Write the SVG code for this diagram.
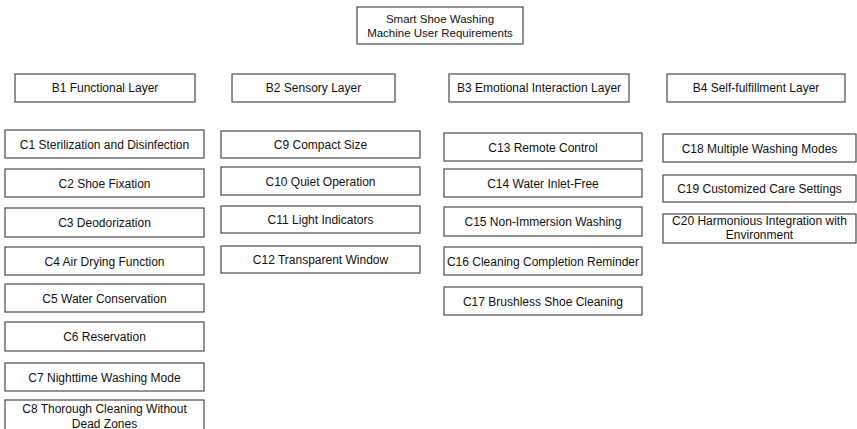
<svg xmlns="http://www.w3.org/2000/svg" width="857" height="429" viewBox="0 0 857 429">
<style>
.box{fill:#fff;stroke:#4a4a4a;stroke-width:1.2}
.t{font-family:"Liberation Sans",Arial,sans-serif;font-size:12px;fill:#111;text-anchor:middle}
.tt{font-family:"Liberation Sans",Arial,sans-serif;font-size:11.5px;fill:#111;text-anchor:middle}
</style>
<rect width="857" height="429" fill="#fff"/>
<g id="connectors"/>
<g id="root"><rect class="box" x="357" y="7" width="166" height="37"/><text class="tt" x="440" y="23">Smart Shoe Washing</text><text class="tt" x="440" y="37">Machine User Requirements</text></g>
<g id="B1"><rect class="box" x="15" y="74" width="180" height="28"/><text class="t" x="105" y="92">B1 Functional Layer</text></g>
<g id="B2"><rect class="box" x="232" y="74" width="163" height="28"/><text class="t" x="313.5" y="92">B2 Sensory Layer</text></g>
<g id="B3"><rect class="box" x="449" y="74" width="180" height="28"/><text class="t" x="539" y="92">B3 Emotional Interaction Layer</text></g>
<g id="B4"><rect class="box" x="667" y="74" width="178" height="28"/><text class="t" x="756" y="92">B4 Self-fulfillment Layer</text></g>
<g id="C1"><rect class="box" x="5" y="130" width="199" height="28"/><text class="t" x="104.5" y="148.5">C1 Sterilization and Disinfection</text></g>
<g id="C2"><rect class="box" x="5" y="169" width="199" height="28"/><text class="t" x="104.5" y="187.5">C2 Shoe Fixation</text></g>
<g id="C3"><rect class="box" x="5" y="208" width="199" height="29"/><text class="t" x="104.5" y="226.5">C3 Deodorization</text></g>
<g id="C4"><rect class="box" x="5" y="247" width="199" height="28"/><text class="t" x="104.5" y="265.5">C4 Air Drying Function</text></g>
<g id="C5"><rect class="box" x="5" y="284" width="199" height="28"/><text class="t" x="104.5" y="302.5">C5 Water Conservation</text></g>
<g id="C6"><rect class="box" x="5" y="322" width="199" height="29"/><text class="t" x="104.5" y="340.5">C6 Reservation</text></g>
<g id="C7"><rect class="box" x="5" y="363" width="199" height="28"/><text class="t" x="104.5" y="381.5">C7 Nighttime Washing Mode</text></g>
<g id="C8"><rect class="box" x="5" y="400" width="199" height="31"/><text class="t" x="104.5" y="412.5">C8 Thorough Cleaning Without</text><text class="t" x="104.5" y="427.5">Dead Zones</text></g>
<g id="C9"><rect class="box" x="221" y="131" width="199" height="27"/><text class="t" x="320.5" y="148.5">C9 Compact Size</text></g>
<g id="C10"><rect class="box" x="221" y="167" width="199" height="28"/><text class="t" x="320.5" y="185.5">C10 Quiet Operation</text></g>
<g id="C11"><rect class="box" x="221" y="206" width="199" height="27"/><text class="t" x="320.5" y="223.5">C11 Light Indicators</text></g>
<g id="C12"><rect class="box" x="221" y="246" width="199" height="27"/><text class="t" x="320.5" y="263.5">C12 Transparent Window</text></g>
<g id="C13"><rect class="box" x="444" y="133" width="198" height="28"/><text class="t" x="543" y="151.5">C13 Remote Control</text></g>
<g id="C14"><rect class="box" x="444" y="169" width="198" height="28"/><text class="t" x="543" y="187.5">C14 Water Inlet-Free</text></g>
<g id="C15"><rect class="box" x="444" y="207" width="198" height="29"/><text class="t" x="543" y="225.5">C15 Non-Immersion Washing</text></g>
<g id="C16"><rect class="box" x="444" y="247" width="198" height="28"/><text class="t" x="543" y="265.5">C16 Cleaning Completion Reminder</text></g>
<g id="C17"><rect class="box" x="444" y="287" width="198" height="28"/><text class="t" x="543" y="305.5">C17 Brushless Shoe Cleaning</text></g>
<g id="C18"><rect class="box" x="663" y="134" width="193" height="28"/><text class="t" x="759.5" y="152.5">C18 Multiple Washing Modes</text></g>
<g id="C19"><rect class="box" x="663" y="175" width="193" height="27"/><text class="t" x="759.5" y="192.5">C19 Customized Care Settings</text></g>
<g id="C20"><rect class="box" x="663" y="214" width="193" height="29"/><text class="t" x="759.5" y="224.5">C20 Harmonious Integration with</text><text class="t" x="759.5" y="239">Environment</text></g>
</svg>
